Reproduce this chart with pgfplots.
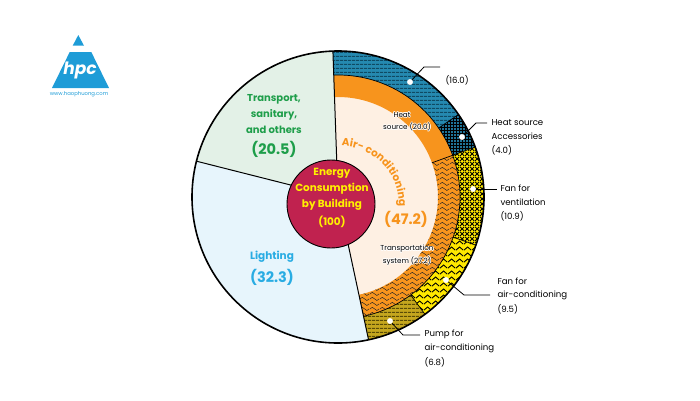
\documentclass[border=0pt]{standalone}
\usepackage{pgfplots}
\pgfplotsset{compat=1.18}
\usepackage{pgfplotstable}
\usepackage{fontspec}
\setmainfont{Poppins}
\usetikzlibrary{calc,patterns,patterns.meta,decorations.text}

\definecolor{trgreen}{HTML}{E3F1E7}
\definecolor{trtext}{HTML}{1E9E4A}
\definecolor{ltblue}{HTML}{E7F5FC}
\definecolor{lttext}{HTML}{29ACE3}
\definecolor{accream}{HTML}{FEF0E3}
\definecolor{acorange}{HTML}{F7941D}
\definecolor{crimson}{HTML}{C0224F}
\definecolor{ctryellow}{HTML}{FFF100}
\definecolor{hsblue}{HTML}{2589B0}
\definecolor{hsstripe}{HTML}{0F4A63}
\definecolor{accblue}{HTML}{1F7397}
\definecolor{fanyellow}{HTML}{FFE800}
\definecolor{olive}{HTML}{C4A61E}
\definecolor{olivestripe}{HTML}{5A4C06}
\definecolor{logoblue}{HTML}{1E9CD7}

\tikzdeclarepattern{name=hstripes, type=uncolored,
  bounding box={(0pt,0pt) and (4pt,4pt)}, tile size={(4pt,4pt)},
  code={\fill (0pt,0pt) rectangle (4pt,1.4pt);}}
\tikzdeclarepattern{name=zigzag, type=uncolored,
  bounding box={(0pt,0pt) and (8pt,6pt)}, tile size={(8pt,6pt)},
  code={\draw[line width=1pt] (0pt,1pt) -- (4pt,4.6pt) -- (8pt,1pt);}}
\tikzdeclarepattern{name=bigcross, type=uncolored,
  bounding box={(0pt,0pt) and (5pt,5pt)}, tile size={(5pt,5pt)},
  code={\draw[line width=1.1pt] (0pt,0pt) -- (5pt,5pt) (0pt,5pt) -- (5pt,0pt);}}
\tikzdeclarepattern{name=topo, type=uncolored,
  bounding box={(0pt,0pt) and (10pt,5pt)}, tile size={(10pt,5pt)},
  code={\draw[line width=0.55pt] (0pt,2.5pt) .. controls (1.6pt,5pt) and (3.4pt,5pt) .. (5pt,2.5pt) .. controls (6.6pt,0pt) and (8.4pt,0pt) .. (10pt,2.5pt);}}

% ---- data ----
\pgfplotstableread{
name value
AC 47.2
Lighting 32.3
Transport 20.5
}\levelone
\pgfplotstableread{
name value
HeatSource 20.0
TransportSystem 27.2
}\leveltwo
\pgfplotstableread{
name value
HeatSourceMain 16.0
Accessories 4.0
FanVent 10.9
FanAC 9.5
Pump 6.8
}\levelthree

\def\S{92}
% level one angles
\pgfplotstablegetelem{0}{value}\of\levelone \pgfmathsetmacro\aB{\S-3.6*\pgfplotsretval}
\pgfplotstablegetelem{1}{value}\of\levelone \pgfmathsetmacro\aC{\aB-3.6*\pgfplotsretval}
\pgfplotstablegetelem{2}{value}\of\levelone \pgfmathsetmacro\aD{\aC-3.6*\pgfplotsretval}
% level two
\pgfplotstablegetelem{0}{value}\of\leveltwo \pgfmathsetmacro\hA{\S-3.6*\pgfplotsretval}
\pgfplotstablegetelem{1}{value}\of\leveltwo \pgfmathsetmacro\hB{\hA-3.6*\pgfplotsretval}
% level three
\pgfplotstablegetelem{0}{value}\of\levelthree \pgfmathsetmacro\oA{\S-3.6*\pgfplotsretval}
\pgfplotstablegetelem{1}{value}\of\levelthree \pgfmathsetmacro\oB{\oA-3.6*\pgfplotsretval}
\pgfplotstablegetelem{2}{value}\of\levelthree \pgfmathsetmacro\oC{\oB-3.6*\pgfplotsretval}
\pgfplotstablegetelem{3}{value}\of\levelthree \pgfmathsetmacro\oD{\oC-3.6*\pgfplotsretval}
\pgfplotstablegetelem{4}{value}\of\levelthree \pgfmathsetmacro\oE{\oD-3.6*\pgfplotsretval}

\newcommand\ring[5]{%
  \path[#5] ($(C)+(#3:#1pt)$) arc[start angle=#3,end angle=#4,radius=#1pt]
    -- ($(C)+(#4:#2pt)$) arc[start angle=#4,end angle=#3,radius=#2pt] -- cycle;}
\newcommand\piewedge[4]{%
  \path[#4] (C) -- ($(C)+(#2:#1pt)$) arc[start angle=#2,end angle=#3,radius=#1pt] -- cycle;}
\newcommand\halo[3]{%
  \node[#1,text=white] at ($(#2)+(0.7pt,0pt)$) {#3};
  \node[#1,text=white] at ($(#2)+(-0.7pt,0pt)$) {#3};
  \node[#1,text=white] at ($(#2)+(0pt,0.7pt)$) {#3};
  \node[#1,text=white] at ($(#2)+(0pt,-0.7pt)$) {#3};
  \node[#1,text=white] at ($(#2)+(0.5pt,0.5pt)$) {#3};
  \node[#1,text=white] at ($(#2)+(-0.5pt,0.5pt)$) {#3};
  \node[#1,text=white] at ($(#2)+(0.5pt,-0.5pt)$) {#3};
  \node[#1,text=white] at ($(#2)+(-0.5pt,-0.5pt)$) {#3};
  \node[#1,text=black] at (#2) {#3};}

\begin{document}
\begin{tikzpicture}
\begin{axis}[x=1pt,y=1pt,xmin=0,xmax=700,ymin=0,ymax=400,y dir=reverse,
  hide axis,clip=false,enlargelimits=false,scale only axis]
\path (axis cs:0,0) rectangle (axis cs:700,400);
\coordinate (C) at (axis cs:338,197);

% level one wedges
\piewedge{146}{\aB}{\aC}{fill=ltblue}
\piewedge{146}{\aC}{\aD}{fill=trgreen}
\piewedge{146}{\S}{\aB}{fill=accream}
% level two ring
\ring{100}{122}{\S}{\hA}{fill=acorange}
\ring{100}{122}{\hA}{\hB}{fill=acorange,postaction={pattern=topo,pattern color=black!85}}
% level three ring
\ring{122}{146}{\S}{\oA}{fill=hsblue,postaction={pattern=hstripes,pattern color=hsstripe}}
\ring{122}{146}{\oA}{\oB}{fill=accblue,postaction={pattern=grid,pattern color=black}}
\ring{122}{146}{\oB}{\oC}{fill=fanyellow,postaction={pattern=bigcross,pattern color=black}}
\ring{122}{146}{\oC}{\oD}{fill=fanyellow,postaction={pattern=zigzag,pattern color=black}}
\ring{122}{146}{\oD}{\oE}{fill=olive,postaction={pattern=hstripes,pattern color=olivestripe}}

% dividers
\draw[line width=1pt] (C) -- ($(C)+(\S:146pt)$);
\draw[line width=1pt] (C) -- ($(C)+(\aB:146pt)$);
\draw[line width=1pt] (C) -- ($(C)+(\aC:146pt)$);
\draw[line width=0.7pt] ($(C)+(\hA:100pt)$) -- ($(C)+(\hA:146pt)$);
\draw[line width=0.7pt] ($(C)+(\oA:122pt)$) -- ($(C)+(\oA:146pt)$);
\draw[line width=0.7pt] ($(C)+(\oC:122pt)$) -- ($(C)+(\oC:146pt)$);
\draw[line width=0.7pt] ($(C)+(\oD:122pt)$) -- ($(C)+(\oD:146pt)$);
\draw[line width=0.7pt] ($(C)+(\S:122pt)$) arc[start angle=\S,end angle=\aB,radius=122pt];
\draw[line width=1.6pt] (C) circle[radius=146pt];

% center
\draw[fill=crimson,line width=0.9pt] (axis cs:331,204) circle[radius=44pt];

% leaders
\draw[line width=0.8pt] (axis cs:410,82) -- (axis cs:424,67) -- (axis cs:440,67);
\draw[line width=0.8pt] (axis cs:462,137) -- (axis cs:476,123) -- (axis cs:487,123);
\draw[line width=0.8pt] (axis cs:473,189) -- (axis cs:497,189);
\draw[line width=0.8pt] (axis cs:446,280) -- (axis cs:464,295) -- (axis cs:490,295);
\draw[line width=0.8pt] (axis cs:390,321) -- (axis cs:403,335) -- (axis cs:420,335);
\addplot[only marks,mark=*,mark size=2.7pt,draw=white,fill=white] coordinates {
(410,82) (462,137) (473,189) (446,280) (390,321)};

% logo
\fill[logoblue] (axis cs:72.7,45.7) -- (axis cs:84,45.7) -- (axis cs:78.3,35) -- cycle;
\fill[logoblue] (axis cs:52,88) -- (axis cs:109,88) -- (axis cs:91.3,52) -- (axis cs:69.7,52) -- cycle;
\node[text=white,font=\bfseries\itshape\fontsize{17}{17}\selectfont] at (axis cs:80,70) {hpc};
\node[text=logoblue,font=\fontsize{5.3}{6}\selectfont] at (axis cs:79,94) {www.haophuong.com};

% labels: big segments
\node[text=trtext,font=\bfseries\fontsize{10}{12}\selectfont] at (axis cs:274,99) {Transport,};
\node[text=trtext,font=\bfseries\fontsize{10}{12}\selectfont] at (axis cs:274,115) {sanitary,};
\node[text=trtext,font=\bfseries\fontsize{10}{12}\selectfont] at (axis cs:274,130) {and others};
\node[text=trtext,font=\bfseries\fontsize{14.5}{16}\selectfont] at (axis cs:274,149) {(20.5)};
\node[text=lttext,font=\bfseries\fontsize{10.5}{12}\selectfont] at (axis cs:272,257) {Lighting};
\node[text=lttext,font=\bfseries\fontsize{14.5}{16}\selectfont] at (axis cs:272,277) {(32.3)};
\node[text=acorange,font=\bfseries\fontsize{14.5}{16}\selectfont] at (axis cs:406,219) {(47.2)};
\node[text=ctryellow,font=\bfseries\fontsize{10.4}{12}\selectfont] at (axis cs:332,173) {Energy};
\node[text=ctryellow,font=\bfseries\fontsize{10.4}{12}\selectfont] at (axis cs:332,189) {Consumption};
\node[text=ctryellow,font=\bfseries\fontsize{10.4}{12}\selectfont] at (axis cs:332,205) {by Building};
\node[text=ctryellow,font=\bfseries\fontsize{10.4}{12}\selectfont] at (axis cs:332,222) {(100)};

\coordinate (ACc) at (axis cs:340,205);
\path[decorate,decoration={text along path,text color=acorange,text align=center,
  text={|\bfseries\fontsize{10.5}{12}\selectfont|Air- conditioning}}]
  ($(ACc)+(93:59pt)$) arc[start angle=93,end angle=-6,radius=59pt];

% ring labels with halo
\halo{font=\fontsize{7.2}{8}\selectfont}{axis cs:402,115}{Heat}
\halo{font=\fontsize{7.2}{8}\selectfont}{axis cs:407,127}{source (20.0)}
\halo{font=\fontsize{7.2}{8}\selectfont}{axis cs:407,249}{Transportation}
\halo{font=\fontsize{7.2}{8}\selectfont}{axis cs:407,261}{system (27.2)}

% outer annotations
\node[anchor=west,font=\fontsize{8.6}{10}\selectfont] at (axis cs:442,80) {(16.0)};
\node[anchor=west,font=\fontsize{8.6}{10}\selectfont] at (axis cs:488,123) {Heat source};
\node[anchor=west,font=\fontsize{8.6}{10}\selectfont] at (axis cs:488,136) {Accessories};
\node[anchor=west,font=\fontsize{8.6}{10}\selectfont] at (axis cs:488,150) {(4.0)};
\node[anchor=west,font=\fontsize{8.6}{10}\selectfont] at (axis cs:497,188) {Fan for};
\node[anchor=west,font=\fontsize{8.6}{10}\selectfont] at (axis cs:497,202) {ventilation};
\node[anchor=west,font=\fontsize{8.6}{10}\selectfont] at (axis cs:497,216) {(10.9)};
\node[anchor=west,font=\fontsize{8.6}{10}\selectfont] at (axis cs:494,281) {Fan for};
\node[anchor=west,font=\fontsize{8.6}{10}\selectfont] at (axis cs:494,295) {air-conditioning};
\node[anchor=west,font=\fontsize{8.6}{10}\selectfont] at (axis cs:494,309) {(9.5)};
\node[anchor=west,font=\fontsize{8.6}{10}\selectfont] at (axis cs:421,334) {Pump for};
\node[anchor=west,font=\fontsize{8.6}{10}\selectfont] at (axis cs:421,348) {air-conditioning};
\node[anchor=west,font=\fontsize{8.6}{10}\selectfont] at (axis cs:421,362) {(6.8)};
\end{axis}
\end{tikzpicture}
\end{document}
